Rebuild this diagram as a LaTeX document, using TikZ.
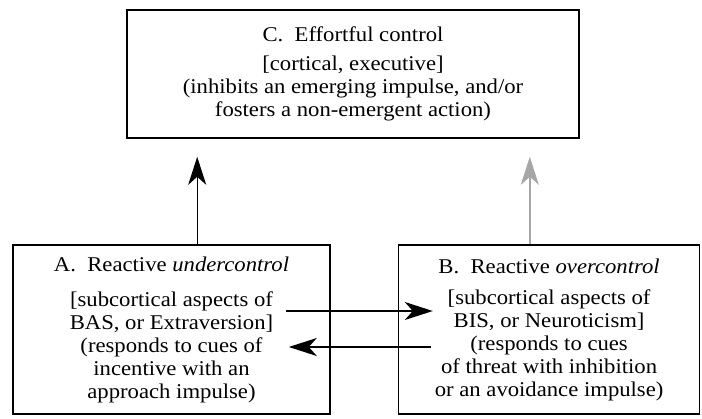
\documentclass[tikz,border=0pt]{standalone}
\usepackage{fontspec}
\setmainfont{Liberation Serif}[FakeStretch=1.08]
\usetikzlibrary{arrows.meta,positioning,calc}
\tikzset{
	block/.style  = {draw, fill=white, rectangle, line width=0.8pt, align=center, inner sep=0pt, font=\fontsize{10.5}{11.5}\selectfont},
	hidden/.style = {coordinate},
}
\begin{document}
\begin{tikzpicture}[x=1pt, y=1pt, >={Stealth[length=14pt, width=9pt, inset=4pt]}, line width=0.7pt]
	\useasboundingbox (0,0) rectangle (351,209);
	% Draw the control boxes
	\draw
	node[block, minimum width=158.5pt, minimum height=84.5pt] at (85.75,44.25) (undercontrol)
		{A.\ \ Reactive \textit{undercontrol}\\[6pt][subcortical aspects of\\BAS, or Extraversion]\\(responds to cues of\\incentive with an\\approach impulse)}
	node[block, minimum width=150.5pt, minimum height=84.5pt, right=33.5pt of undercontrol] (overcontrol)
		{B.\ \ Reactive \textit{overcontrol}\\[4pt][subcortical aspects of\\BIS, or Neuroticism]\\(responds to cues\\of threat with inhibition\\or an avoidance impulse)}
	node[block, minimum width=226pt, minimum height=64pt] at (176.5,172) (effortful)
		{C.\ \ Effortful control\\[3pt][cortical, executive]\\(inhibits an emerging impulse, and/or\\fosters a non-emergent action)};
	
	% Arrow end points
	\coordinate (underfoot) at ($(undercontrol.north west)+(92.5,0)$);
	\coordinate (undertip) at ($(underfoot |- effortful.south)+(0,-9)$);
	\coordinate (overfoot) at ($(overcontrol.north west)+(66,0)$);
	\coordinate (overtip) at ($(overfoot |- effortful.south)+(0,-9)$);
	\coordinate (excitestart) at ($(undercontrol.east)+(-22.5,9.25)$);
	\coordinate (excitetip) at ($(overcontrol.west)+(17.5,9.25)$);
	\coordinate (inhibitstart) at ($(overcontrol.west)+(16.5,-8.75)$);
	\coordinate (inhibittip) at ($(undercontrol.east)+(-21,-8.75)$);
	
	% Connect everything together
	\draw[->] (underfoot) -- (undertip);
	\draw[->, black!35] (overfoot) -- (overtip);
	\draw[->] (excitestart) -- (excitetip);
	\draw[->] (inhibitstart) -- (inhibittip);
\end{tikzpicture}
\end{document}
